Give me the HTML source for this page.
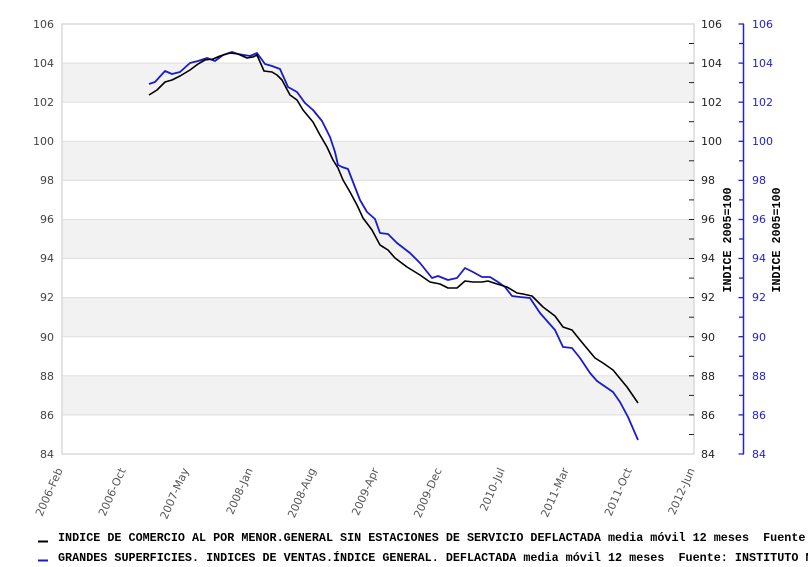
<!DOCTYPE html>
<html>
<head>
<meta charset="utf-8">
<style>
  html,body{margin:0;padding:0;background:#fff;width:808px;height:567px;overflow:hidden;}
  svg{display:block;}
  .ax{font-family:"DejaVu Sans","Liberation Sans",sans-serif;font-size:11px;fill:#444;}
  .axb{font-family:"DejaVu Sans","Liberation Sans",sans-serif;font-size:11px;fill:#2222cc;}
  .xl{font-family:"DejaVu Sans","Liberation Sans",sans-serif;font-size:11px;fill:#555;}
  .mono{font-family:"Liberation Mono","DejaVu Sans Mono",monospace;font-weight:bold;font-size:11.67px;fill:#000;}
  .leg{font-family:"Liberation Mono","DejaVu Sans Mono",monospace;font-weight:bold;font-size:11.75px;fill:#000;}
</style>
</head>
<body>
<svg width="808" height="567" viewBox="0 0 808 567" xmlns="http://www.w3.org/2000/svg">
  <rect x="0" y="0" width="808" height="567" fill="#fff"/>
  <!-- bands -->
  <g fill="#f2f2f2">
    <rect x="62" y="63.1" width="632" height="39.1"/>
    <rect x="62" y="141.3" width="632" height="39.1"/>
    <rect x="62" y="219.5" width="632" height="39.1"/>
    <rect x="62" y="297.6" width="632" height="39.1"/>
    <rect x="62" y="375.8" width="632" height="39.1"/>
  </g>
  <!-- grid lines -->
  <g stroke="#e2e2e2" stroke-width="1.2">
    <line x1="62" y1="63.1" x2="694" y2="63.1"/>
    <line x1="62" y1="102.2" x2="694" y2="102.2"/>
    <line x1="62" y1="141.3" x2="694" y2="141.3"/>
    <line x1="62" y1="180.4" x2="694" y2="180.4"/>
    <line x1="62" y1="219.5" x2="694" y2="219.5"/>
    <line x1="62" y1="258.5" x2="694" y2="258.5"/>
    <line x1="62" y1="297.6" x2="694" y2="297.6"/>
    <line x1="62" y1="336.7" x2="694" y2="336.7"/>
    <line x1="62" y1="375.8" x2="694" y2="375.8"/>
    <line x1="62" y1="414.9" x2="694" y2="414.9"/>
  </g>
  <rect x="62" y="24" width="632" height="430" fill="none" stroke="#dadada" stroke-width="1.5"/>

  <!-- left axis labels -->
  <g class="ax" text-anchor="end">
    <text x="54" y="28">106</text>
    <text x="54" y="67">104</text>
    <text x="54" y="106">102</text>
    <text x="54" y="145">100</text>
    <text x="54" y="184">98</text>
    <text x="54" y="223">96</text>
    <text x="54" y="262">94</text>
    <text x="54" y="301">92</text>
    <text x="54" y="341">90</text>
    <text x="54" y="380">88</text>
    <text x="54" y="419">86</text>
    <text x="54" y="458">84</text>
  </g>

  <!-- right black ticks -->
  <g stroke="#222" stroke-width="1">
    <line x1="689" y1="43.5" x2="694" y2="43.5"/>
    <line x1="689" y1="63.1" x2="694" y2="63.1"/>
    <line x1="689" y1="82.6" x2="694" y2="82.6"/>
    <line x1="689" y1="102.2" x2="694" y2="102.2"/>
    <line x1="689" y1="121.7" x2="694" y2="121.7"/>
    <line x1="689" y1="141.3" x2="694" y2="141.3"/>
    <line x1="689" y1="160.8" x2="694" y2="160.8"/>
    <line x1="689" y1="180.4" x2="694" y2="180.4"/>
    <line x1="689" y1="199.9" x2="694" y2="199.9"/>
    <line x1="689" y1="219.5" x2="694" y2="219.5"/>
    <line x1="689" y1="239" x2="694" y2="239"/>
    <line x1="689" y1="258.5" x2="694" y2="258.5"/>
    <line x1="689" y1="278.1" x2="694" y2="278.1"/>
    <line x1="689" y1="297.6" x2="694" y2="297.6"/>
    <line x1="689" y1="317.2" x2="694" y2="317.2"/>
    <line x1="689" y1="336.7" x2="694" y2="336.7"/>
    <line x1="689" y1="356.3" x2="694" y2="356.3"/>
    <line x1="689" y1="375.8" x2="694" y2="375.8"/>
    <line x1="689" y1="395.4" x2="694" y2="395.4"/>
    <line x1="689" y1="414.9" x2="694" y2="414.9"/>
    <line x1="689" y1="434.5" x2="694" y2="434.5"/>
  </g>
  <g class="ax" style="fill:#222">
    <text x="701" y="28">106</text>
    <text x="701" y="67">104</text>
    <text x="701" y="106">102</text>
    <text x="701" y="145">100</text>
    <text x="701" y="184">98</text>
    <text x="701" y="223">96</text>
    <text x="701" y="262">94</text>
    <text x="701" y="301">92</text>
    <text x="701" y="341">90</text>
    <text x="701" y="380">88</text>
    <text x="701" y="419">86</text>
    <text x="701" y="458">84</text>
  </g>
  <text class="mono" transform="translate(731,240) rotate(-90)" text-anchor="middle">INDICE 2005=100</text>

  <!-- blue axis -->
  <line x1="743.5" y1="24" x2="743.5" y2="454" stroke="#2222cc" stroke-width="1.5"/>
  <g stroke="#2222cc" stroke-width="1.3">
    <line x1="738.5" y1="24" x2="744" y2="24"/>
    <line x1="739" y1="43.5" x2="744" y2="43.5"/>
    <line x1="738.5" y1="63.1" x2="744" y2="63.1"/>
    <line x1="739" y1="82.6" x2="744" y2="82.6"/>
    <line x1="738.5" y1="102.2" x2="744" y2="102.2"/>
    <line x1="739" y1="121.7" x2="744" y2="121.7"/>
    <line x1="738.5" y1="141.3" x2="744" y2="141.3"/>
    <line x1="739" y1="160.8" x2="744" y2="160.8"/>
    <line x1="738.5" y1="180.4" x2="744" y2="180.4"/>
    <line x1="739" y1="199.9" x2="744" y2="199.9"/>
    <line x1="738.5" y1="219.5" x2="744" y2="219.5"/>
    <line x1="739" y1="239" x2="744" y2="239"/>
    <line x1="738.5" y1="258.5" x2="744" y2="258.5"/>
    <line x1="739" y1="278.1" x2="744" y2="278.1"/>
    <line x1="738.5" y1="297.6" x2="744" y2="297.6"/>
    <line x1="739" y1="317.2" x2="744" y2="317.2"/>
    <line x1="738.5" y1="336.7" x2="744" y2="336.7"/>
    <line x1="739" y1="356.3" x2="744" y2="356.3"/>
    <line x1="738.5" y1="375.8" x2="744" y2="375.8"/>
    <line x1="739" y1="395.4" x2="744" y2="395.4"/>
    <line x1="738.5" y1="414.9" x2="744" y2="414.9"/>
    <line x1="739" y1="434.5" x2="744" y2="434.5"/>
    <line x1="738.5" y1="454" x2="744" y2="454"/>
  </g>
  <g class="axb">
    <text x="752" y="28">106</text>
    <text x="752" y="67">104</text>
    <text x="752" y="106">102</text>
    <text x="752" y="145">100</text>
    <text x="752" y="184">98</text>
    <text x="752" y="223">96</text>
    <text x="752" y="262">94</text>
    <text x="752" y="301">92</text>
    <text x="752" y="341">90</text>
    <text x="752" y="380">88</text>
    <text x="752" y="419">86</text>
    <text x="752" y="458">84</text>
  </g>
  <text class="mono" transform="translate(780,240) rotate(-90)" text-anchor="middle">INDICE 2005=100</text>

  <!-- x labels -->
  <g class="xl" text-anchor="end">
    <text transform="translate(63,470) rotate(-66)">2006-Feb</text>
    <text transform="translate(126,470) rotate(-66)">2006-Oct</text>
    <text transform="translate(189,470) rotate(-66)">2007-May</text>
    <text transform="translate(253,470) rotate(-66)">2008-Jan</text>
    <text transform="translate(316,470) rotate(-66)">2008-Aug</text>
    <text transform="translate(379,470) rotate(-66)">2009-Apr</text>
    <text transform="translate(442,470) rotate(-66)">2009-Dec</text>
    <text transform="translate(505,470) rotate(-66)">2010-Jul</text>
    <text transform="translate(569,470) rotate(-66)">2011-Mar</text>
    <text transform="translate(632,470) rotate(-66)">2011-Oct</text>
    <text transform="translate(695,470) rotate(-66)">2012-Jun</text>
  </g>

  <!-- series -->
  <polyline fill="none" stroke="#1a1acc" stroke-width="1.8" stroke-linejoin="round"
    points="149,84 155,82 165,71 172,74 180,72 190,63 198,61 207,58 215,61 223,55 232,52 238,54 250,56 257,53 265,64 272,66 280,69 288,87 297,92 305,103 313,110 322,121 330,137 335,152 338,165 342,167 348,169 353,182 360,200 367,212 375,219 380,233 388,234 397,243 410,253 420,263 432,278 438,276 448,280 457,278 465,268 473,272 482,277 490,277 498,282 505,287 512,296 520,297 530,298 540,313 555,330 563,347 572,348 580,358 590,373 597,381 613,392 620,402 628,417 638,440"/>
  <polyline fill="none" stroke="#000" stroke-width="1.6" stroke-linejoin="round"
    points="149,95 157,90 165,82 172,80 180,76 190,70 198,64 205,60 213,59 220,56 230,53 238,54 247,58 253,57 257,55 264,71 272,72 277,75 282,80 290,95 297,100 303,110 313,122 320,135 327,147 333,160 338,168 343,180 350,192 357,205 363,218 372,230 380,245 388,250 395,258 407,267 420,275 430,282 440,284 448,288 457,288 465,281 473,282 482,282 488,281 497,284 507,287 517,293 523,294 532,296 543,307 555,316 563,327 572,330 580,340 595,358 603,363 613,370 627,387 638,403"/>

  <!-- legend -->
  <rect x="38" y="540.5" width="10" height="2" fill="#000"/>
  <text class="leg" x="58" y="541" xml:space="preserve">INDICE DE COMERCIO AL POR MENOR.GENERAL SIN ESTACIONES DE SERVICIO DEFLACTADA media móvil 12 meses  Fuente: INSTITUTO NACIONAL DE ESTADÍSTICA</text>
  <rect x="38" y="559.5" width="10" height="2" fill="#1a1acc"/>
  <text class="leg" x="58" y="561" xml:space="preserve">GRANDES SUPERFICIES. INDICES DE VENTAS.ÍNDICE GENERAL. DEFLACTADA media móvil 12 meses  Fuente: INSTITUTO NACIONAL DE ESTADÍSTICA</text>
</svg>
</body>
</html>
